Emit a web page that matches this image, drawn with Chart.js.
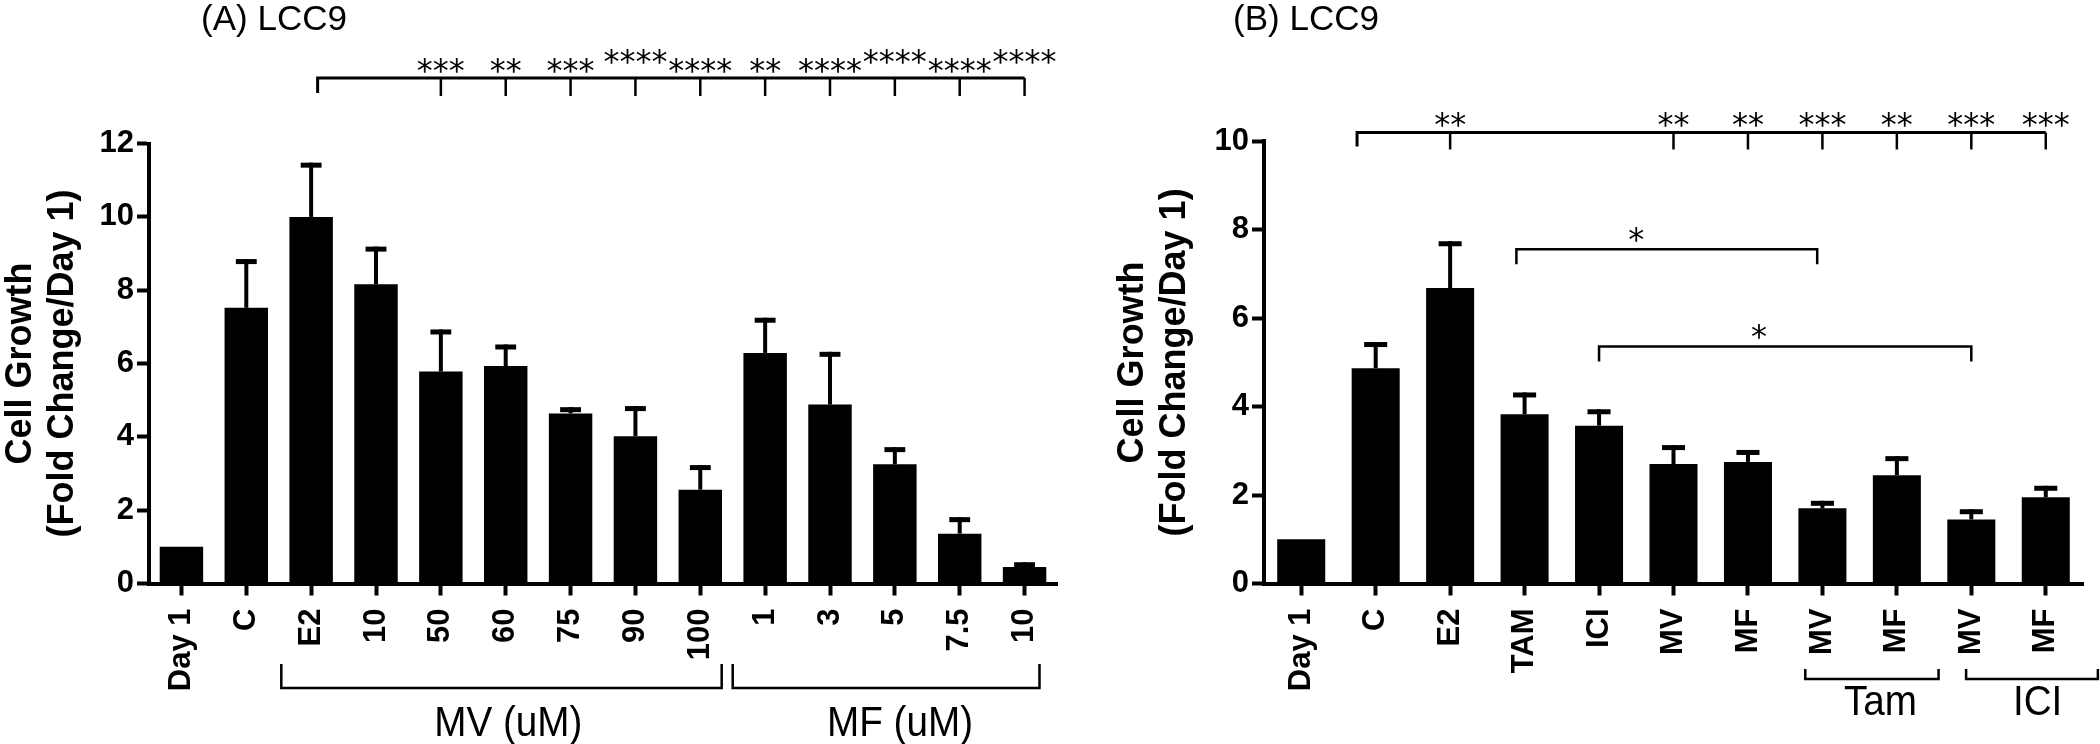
<!DOCTYPE html>
<html>
<head>
<meta charset="utf-8">
<script src="https://cdn.jsdelivr.net/npm/chart.js@4.4.1/dist/chart.umd.min.js"></script>
<style>
html, body { margin: 0; padding: 0; background: #fff; }
#wrap { position: relative; width: 2100px; height: 744px; overflow: hidden; background: #fff; }
canvas { position: absolute; top: 0; }
#chartA { left: 0; }
#chartB { left: 1112px; }
</style>
</head>
<body>
<div id="wrap">
  <canvas id="chartA" width="1080" height="744" style="width:1080px;height:744px"></canvas>
  <canvas id="chartB" width="1000" height="744" style="width:1000px;height:744px"></canvas>
</div>
<script>
// ---- Panel A : LCC9, dose response ----
var labelsA = ['Day 1', 'C', 'E2', '10', '50', '60', '75', '90', '100', '1', '3', '5', '7.5', '10'];
var meansA  = [1.0, 7.52, 10.0, 8.16, 5.78, 5.93, 4.64, 4.02, 2.56, 6.29, 4.88, 3.25, 1.36, 0.45];
var semA    = [0, 1.33, 1.48, 1.03, 1.15, 0.59, 0.17, 0.82, 0.67, 0.96, 1.44, 0.47, 0.45, 0.13];
var ticksA  = [0, 2, 4, 6, 8, 10, 12];

// significance vs E2 (top bracket)
var sigFromA  = 2.1;
var sigIdxA   = [4, 5, 6, 7, 8, 9, 10, 11, 12, 13];
var sigStarsA = ['***', '**', '***', '****', '****', '**', '****', '****', '****', '****'];
var sigRaiseA = [0, 0, 0, 1, 0, 0, 0, 1, 0, 1];

// groups under the axis
var groupNamesA = ['MV (uM)', 'MF (uM)'];
var groupFromA  = [1.54, 8.5];
var groupToA    = [8.33, 13.23];
var groupMidA   = [5.04, 11.08];

// ---- Panel B : LCC9, combinations ----
var labelsB = ['Day 1', 'C', 'E2', 'TAM', 'ICI', 'MV', 'MF', 'MV', 'MF', 'MV', 'MF'];
var meansB  = [1.0, 4.87, 6.68, 3.83, 3.57, 2.70, 2.75, 1.70, 2.45, 1.45, 1.95];
var semB    = [0, 0.59, 1.06, 0.49, 0.37, 0.43, 0.27, 0.17, 0.43, 0.23, 0.26];
var ticksB  = [0, 2, 4, 6, 8, 10];

var sigFromB  = 0.75;
var sigIdxB   = [2, 5, 6, 7, 8, 9, 10];
var sigStarsB = ['**', '**', '**', '***', '**', '***', '***'];
var sigRaiseB = [0, 0, 0, 0, 0, 0, 0];

// pairwise brackets (from, to, height in y units, star position)
var pairFromB = [2.89, 4.0];
var pairToB   = [6.93, 9.0];
var pairYB    = [7.56, 5.36];
var pairStarB = [4.5, 6.15];

var groupNamesB = ['Tam', 'ICI'];
var groupFromB  = [6.77, 8.93];
var groupToB    = [8.56, 10.7];
var groupMidB   = [7.78, 9.89];

var BOLD = '"Liberation Sans", Arial, Helvetica, sans-serif';

function drawStars(ctx, txt, x, bottom) {
  ctx.font = '32px "DejaVu Sans", sans-serif';
  ctx.textAlign = 'center';
  ctx.textBaseline = 'alphabetic';
  var m = ctx.measureText(txt);
  ctx.fillText(txt, x, bottom - m.actualBoundingBoxDescent);
}

function makePanel(id, p) {
  var annot = {
    id: 'annot_' + id,
    afterDatasetsDraw: function (chart) {
      var ctx = chart.ctx, xs = chart.scales.x, ys = chart.scales.y;
      var meta = chart.getDatasetMeta(0);
      ctx.save();
      ctx.fillStyle = '#000';
      ctx.strokeStyle = '#000';

      // error bars (mean + SEM)
      meta.data.forEach(function (bar, i) {
        if (!p.sem[i]) return;
        var yTop = ys.getPixelForValue(p.means[i] + p.sem[i]);
        ctx.fillRect(bar.x - 2, yTop, 4, bar.y - yTop);
        var cw = bar.width * 0.48;
        ctx.fillRect(bar.x - cw / 2, yTop, cw, 5);
      });

      // panel title
      ctx.font = '35px ' + BOLD;
      ctx.textAlign = 'center';
      ctx.textBaseline = 'alphabetic';
      ctx.fillText(p.title, p.titleX, 30);

      // top bracket
      var yb = ys.getPixelForValue(p.sigY);
      var xFrom = xs.getPixelForValue(p.sigFrom);
      var xTo = xs.getPixelForValue(p.sigIdx[p.sigIdx.length - 1]);
      ctx.lineWidth = 3;
      ctx.beginPath();
      ctx.moveTo(xFrom, yb + p.sigDrop - 3); ctx.lineTo(xFrom, yb);
      ctx.lineTo(xTo, yb);
      ctx.stroke();
      ctx.lineWidth = 2.5;
      p.sigIdx.forEach(function (ix, k) {
        var x = xs.getPixelForValue(ix);
        ctx.beginPath(); ctx.moveTo(x, yb); ctx.lineTo(x, yb + p.sigDrop); ctx.stroke();
        drawStars(ctx, p.sigStars[k], x, yb - 5 - (p.sigRaise[k] ? 9 : 0));
      });

      // pairwise brackets
      (p.pairFrom || []).forEach(function (f, k) {
        var y = ys.getPixelForValue(p.pairY[k]);
        var x1 = xs.getPixelForValue(f), x2 = xs.getPixelForValue(p.pairTo[k]);
        ctx.lineWidth = 2.5;
        ctx.beginPath();
        ctx.moveTo(x1, y + 15); ctx.lineTo(x1, y); ctx.lineTo(x2, y); ctx.lineTo(x2, y + 15);
        ctx.stroke();
        drawStars(ctx, '*', xs.getPixelForValue(p.pairStar[k]), y - 7);
      });

      // group brackets below axis
      ctx.lineWidth = 2.5;
      p.groupNames.forEach(function (name, k) {
        var x1 = xs.getPixelForValue(p.groupFrom[k]), x2 = xs.getPixelForValue(p.groupTo[k]);
        ctx.beginPath();
        ctx.moveTo(x1, p.gTop); ctx.lineTo(x1, p.gBot); ctx.lineTo(x2, p.gBot); ctx.lineTo(x2, p.gTop);
        ctx.stroke();
        ctx.save();
        ctx.font = '42px ' + BOLD;
        ctx.textAlign = 'center';
        ctx.textBaseline = 'alphabetic';
        ctx.translate(xs.getPixelForValue(p.groupMid[k]), p.gText);
        ctx.scale(0.92, 1);
        ctx.fillText(name, 0, 0);
        ctx.restore();
      });
      ctx.restore();
    }
  };

  return new Chart(document.getElementById(id), {
    type: 'bar',
    data: {
      labels: p.labels,
      datasets: [{
        data: p.means,
        backgroundColor: '#000',
        borderWidth: 0,
        barPercentage: p.barPct,
        categoryPercentage: 1
      }]
    },
    options: {
      responsive: false,
      animation: false,
      devicePixelRatio: 1,
      layout: { padding: { top: p.padTop, right: p.padRight, left: 0, bottom: 0 } },
      plugins: { legend: { display: false }, tooltip: { enabled: false } },
      scales: {
        x: {
          offset: true,
          grid: { offset: false, drawOnChartArea: false, tickLength: 12, tickWidth: 4, tickColor: '#000' },
          border: { color: '#000', width: 4 },
          ticks: {
            color: '#000', autoSkip: false, minRotation: 90, maxRotation: 90, padding: 13,
            font: { family: BOLD, weight: 'bold', size: 31 }
          },
          afterFit: function (s) { s.height = 160.5; }
        },
        y: {
          min: 0, max: p.ticks[p.ticks.length - 1],
          afterBuildTicks: function (s) { s.ticks = p.ticks.map(function (v) { return { value: v }; }); },
          grid: { drawOnChartArea: false, tickLength: 12, tickWidth: 4, tickColor: '#000' },
          border: { color: '#000', width: 4 },
          ticks: { color: '#000', padding: 3, font: { family: BOLD, weight: 'bold', size: 31 } },
          title: {
            display: true,
            text: ['Cell Growth', '(Fold Change/Day 1)'],
            color: '#000',
            padding: 0,
            font: { family: BOLD, weight: 'bold', size: 36, lineHeight: '42px' }
          },
          afterFit: function (s) { s.width = p.yWidth; }
        }
      }
    },
    plugins: [annot]
  });
}

makePanel('chartA', {
  labels: labelsA, means: meansA, sem: semA, ticks: ticksA,
  barPct: 0.67, padTop: 143.6, padRight: 23, yWidth: 149,
  title: '(A) LCC9', titleX: 274,
  sigFrom: sigFromA, sigIdx: sigIdxA, sigStars: sigStarsA, sigRaise: sigRaiseA,
  sigY: 13.79, sigDrop: 18,
  groupNames: groupNamesA, groupFrom: groupFromA, groupTo: groupToA, groupMid: groupMidA,
  gTop: 664, gBot: 688, gText: 736
});

makePanel('chartB', {
  labels: labelsB, means: meansB, sem: semB, ticks: ticksB,
  barPct: 0.645, padTop: 141.3, padRight: 29, yWidth: 152,
  title: '(B) LCC9', titleX: 194,
  sigFrom: sigFromB, sigIdx: sigIdxB, sigStars: sigStarsB, sigRaise: sigRaiseB,
  sigY: 10.2, sigDrop: 17,
  pairFrom: pairFromB, pairTo: pairToB, pairY: pairYB, pairStar: pairStarB,
  groupNames: groupNamesB, groupFrom: groupFromB, groupTo: groupToB, groupMid: groupMidB,
  gTop: 669, gBot: 679, gText: 715
});
</script>
</body>
</html>
